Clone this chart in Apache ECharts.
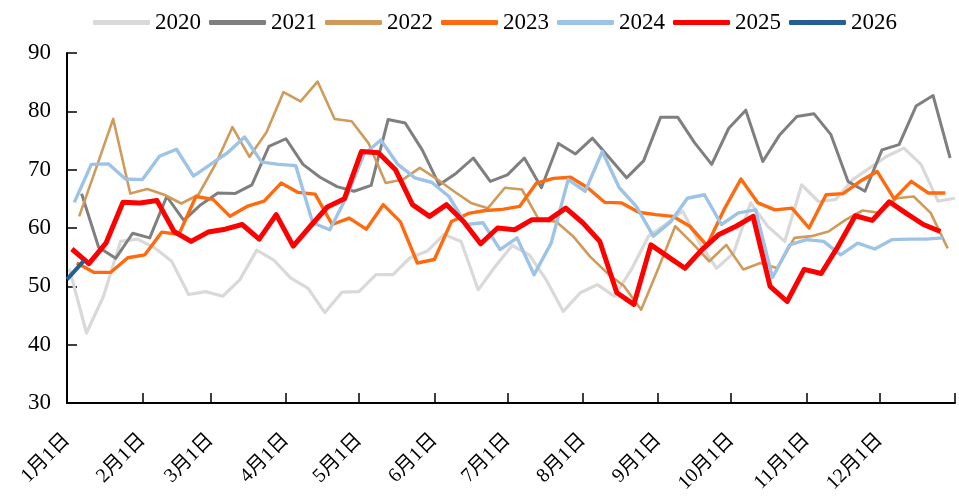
<!DOCTYPE html>
<html>
<head>
<meta charset="utf-8">
<title>weekly</title>
<script src="https://cdn.jsdelivr.net/npm/echarts@6/dist/echarts.min.js"></script>
<style>
  html, body { margin: 0; padding: 0; background: #fff; }
  #chart { width: 959px; height: 497px; }
</style>
</head>
<body>
<div id="chart"></div>
<script>
// 年份与首个数据日（一年中的第几天，周度数据）
var years = ['2020', '2021', '2022', '2023', '2024', '2025', '2026'];
var startDays = [1, 6, 5, 4, 3, 2, 0];

// 月初刻度（一年中的第几天）
var monthStarts = [0, 31, 59, 90, 120, 151, 181, 212, 243, 273, 304, 334];
var monthLabels = ['1月1日', '2月1日', '3月1日', '4月1日', '5月1日', '6月1日',
                   '7月1日', '8月1日', '9月1日', '10月1日', '11月1日', '12月1日'];

var v2020 = [53.0, 42.0, 48.3, 57.7, 58.1, 56.6, 54.3, 48.6, 49.1, 48.3, 51.1, 56.2, 54.5, 51.4, 49.7, 45.5, 49.0, 49.1,
             52.0, 52.0, 54.9, 56.0, 58.9, 57.7, 49.4, 53.4, 57.0, 55.4, 51.1, 45.7, 48.9, 50.3, 48.3, 52.9, 58.6, 60.6,
             62.9, 57.4, 53.1, 55.7, 64.3, 60.3, 57.7, 67.4, 64.5, 64.9, 68.3, 70.3, 72.3, 73.7, 70.9, 64.6, 65.1];
var v2021 = [65.9, 56.7, 54.8, 59.1, 58.3, 65.4, 61.3, 64.0, 66.0, 65.9, 67.4, 74.0, 75.3, 70.9, 68.7, 67.1, 66.3, 67.3,
             78.6, 78.0, 73.4, 67.4, 69.4, 72.0, 68.0, 69.1, 72.0, 66.9, 74.5, 72.7, 75.4, 72.0, 68.6, 71.5, 79.0, 79.0,
             74.6, 70.9, 77.1, 80.2, 71.4, 76.0, 79.1, 79.6, 76.0, 68.0, 66.3, 73.4, 74.3, 80.9, 82.7, 72.0];
var v2022 = [62.0, 70.3, 78.7, 65.9, 66.7, 65.7, 64.2, 65.7, 70.9, 77.3, 72.2, 76.4, 83.3, 81.7, 85.1, 78.7, 78.3, 74.5,
             67.7, 68.3, 70.3, 68.4, 66.3, 64.3, 63.4, 66.9, 66.6, 61.4, 61.1, 58.6, 55.1, 52.3, 50.0, 46.0, 53.0, 60.3,
             57.4, 54.3, 57.1, 52.9, 54.0, 53.1, 58.3, 58.6, 59.4, 61.4, 63.0, 62.6, 65.1, 65.4, 62.6, 56.5];
var v2023 = [54.0, 52.4, 52.4, 54.9, 55.4, 59.3, 58.9, 65.4, 64.9, 62.0, 63.7, 64.6, 67.7, 66.1, 65.8, 60.6, 61.7, 59.8,
             64.0, 61.1, 54.0, 54.6, 61.1, 62.5, 63.0, 63.2, 63.7, 67.7, 68.5, 68.7, 66.9, 64.4, 64.3, 62.7, 62.3, 62.0,
             60.3, 57.0, 63.1, 68.4, 64.3, 63.1, 63.4, 60.0, 65.7, 65.9, 68.0, 69.7, 65.0, 68.0, 66.0, 66.0];
var v2024 = [64.4, 70.9, 71.0, 68.4, 68.3, 72.3, 73.5, 68.9, 70.9, 72.9, 75.6, 71.3, 70.9, 70.7, 60.9, 59.7, 65.4, 72.6,
             75.1, 70.9, 68.6, 67.8, 65.4, 60.6, 60.9, 56.3, 58.3, 52.0, 57.4, 68.3, 66.3, 73.1, 66.9, 63.7, 58.6, 61.0,
             65.1, 65.7, 60.6, 62.6, 63.1, 51.5, 57.1, 58.0, 57.7, 55.4, 57.4, 56.4, 58.0, 58.1, 58.1, 58.3];
var v2025 = [56.4, 53.9, 57.4, 64.4, 64.3, 64.7, 59.4, 57.7, 59.3, 59.8, 60.6, 58.1, 62.3, 56.9, 60.3, 63.6, 65.0, 73.1,
             72.9, 70.0, 64.0, 62.0, 64.0, 61.1, 57.3, 60.0, 59.7, 61.4, 61.4, 63.4, 60.9, 57.7, 48.9, 46.9, 57.1, 55.1,
             53.1, 56.3, 58.9, 60.3, 62.0, 50.0, 47.4, 52.9, 52.2, 56.9, 62.1, 61.3, 64.5, 62.5, 60.6, 59.4];
var v2026 = [51.2, 54.4];

var allValues = [v2020, v2021, v2022, v2023, v2024, v2025, v2026];
var colors = ['#D9D9D9', '#7F7F7F', '#D09A5A', '#FF6A0E', '#9DC3E6', '#FF0000', '#255E91'];
var widths = [3.2, 3, 2.6, 3.4, 3.4, 5, 4];

var series = [];
for (var k = 0; k < years.length; k++) {
    var pts = [];
    for (var i = 0; i < allValues[k].length; i++) {
        pts.push([startDays[k] + 7 * i, allValues[k][i]]);
    }
    series.push({
        name: years[k],
        type: 'line',
        data: pts,
        symbol: 'none',
        z: 2 + k,
        itemStyle: { color: colors[k] },
        lineStyle: { color: colors[k], width: widths[k], join: 'round' }
    });
}

var myChart = echarts.init(document.getElementById('chart'));
var option = {
    animation: false,
    backgroundColor: '#fff',
    color: colors,
    legend: {
        left: 88,
        top: 6,
        itemWidth: 57,
        itemHeight: 5,
        itemGap: 8,
        icon: 'roundRect',
        textStyle: { fontFamily: 'Liberation Serif', fontSize: 23, color: '#000' },
        data: years
    },
    grid: { left: 67, right: 4, top: 53, bottom: 94, containLabel: false },
    xAxis: {
        type: 'value',
        min: 0,
        max: 365,
        axisLine: { show: true, lineStyle: { color: '#000', width: 2 } },
        axisTick: { show: true, inside: true, length: 10, customValues: monthStarts.concat([365]),
                    lineStyle: { color: '#000', width: 1.5 } },
        axisLabel: {
            customValues: monthStarts,
            rotate: 45,
            margin: 34,
            fontFamily: 'Liberation Serif, Noto Sans CJK SC',
            fontSize: 20,
            color: '#000',
            formatter: function (v) {
                var idx = monthStarts.indexOf(v);
                return idx >= 0 ? monthLabels[idx] : '';
            }
        },
        splitLine: { show: false }
    },
    yAxis: {
        type: 'value',
        min: 30,
        max: 90,
        interval: 10,
        axisLine: { show: true, lineStyle: { color: '#000', width: 2 } },
        axisTick: { show: true, inside: true, length: 10, lineStyle: { color: '#000', width: 1.5 } },
        axisLabel: { fontFamily: 'Liberation Serif', fontSize: 23, color: '#000', margin: 16 },
        splitLine: { show: false }
    },
    series: series
};
myChart.setOption(option);
</script>
</body>
</html>
